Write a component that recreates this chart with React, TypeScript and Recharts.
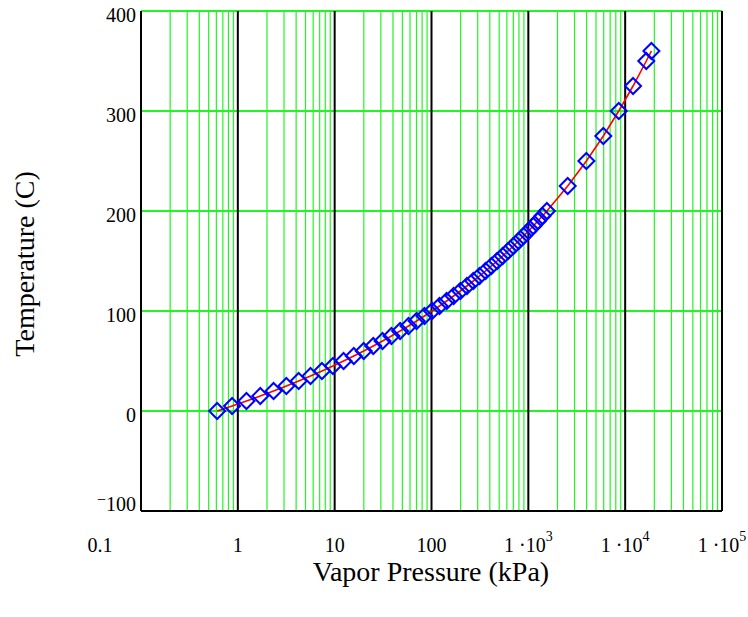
import React from "react";
import {
  ComposedChart,
  Line,
  XAxis,
  YAxis,
  ReferenceLine
} from "recharts";

// saturated water: temperature (C) vs vapor pressure (kPa)
const temperatureC = [
  0, 5, 10, 15, 20, 25, 30, 35, 40, 45, 50, 55, 60, 65, 70, 75, 80, 85, 90, 95,
  100, 105, 110, 115, 120, 125, 130, 135, 140, 145, 150, 155, 160, 165, 170, 175,
  180, 185, 190, 195, 200, 225, 250, 275, 300, 325, 350, 360
];
const pressureKPa = [
  0.6117, 0.8725, 1.2281, 1.7057, 2.3392, 3.1698, 4.2469, 5.6291, 7.3851, 9.5953,
  12.352, 15.763, 19.947, 25.043, 31.202, 38.597, 47.416, 57.868, 70.183, 84.609,
  101.42, 120.9, 143.38, 169.18, 198.67, 232.23, 270.28, 313.22, 361.53, 415.68,
  476.16, 543.49, 618.23, 700.93, 792.18, 892.6, 1002.8, 1123.5, 1255.2, 1398.8,
  1554.9, 2549.7, 3976.2, 5946.4, 8587.9, 12060, 16529, 18666
];

const xTicks = [0.1, 1, 10, 100, 1000, 10000, 100000];
const xTickExponents = [null, null, null, null, 3, 4, 5];
const xTickPlain = ["0.1", "1", "10", "100"];
const yTicks = [-100, 0, 100, 200, 300, 400];
const yGridValues = [0, 100, 200, 300, 400];
const decadeLines = [1, 10, 100, 1000, 10000];

const GREEN = "#22f522";
const FONT = "'Liberation Serif', 'Times New Roman', serif";
const textStyle = { fontFamily: FONT, fill: "#000" };

const data = pressureKPa.map((p, i) => ({ p, t: temperatureC[i] }));

// 2..9 within each decade from 0.1 up to 1e5
const minorLines: number[] = [];
for (let d = 0.1; d < 100000; d *= 10) {
  for (let k = 2; k <= 9; k++) minorLines.push(Math.round(d * k * 1000) / 1000);
}

function XTick(props: any) {
  const { x, y, payload, index } = props;
  const exp = xTickExponents[index];
  const cx = index === 0 ? x - 41 : x;
  if (exp == null) {
    return (
      <text x={cx} y={y} dy={33} textAnchor="middle" fontSize={20} style={textStyle}>
        {xTickPlain[index] ?? String(payload.value)}
      </text>
    );
  }
  return (
    <text x={cx} y={y} dy={33} textAnchor="middle" fontSize={20} style={textStyle}>
      <tspan>1 ·10</tspan>
      <tspan dy={-11} fontSize={14}>{exp}</tspan>
    </text>
  );
}

function YTick(props: any) {
  const { x, y, payload } = props;
  const v = payload.value;
  if (v < 0) {
    return (
      <text x={x + 3} y={y} dy={10.5} textAnchor="end" fontSize={20} style={textStyle}>
        <tspan dy={-6} fontSize={16}>−</tspan>
        <tspan dy={6}>{Math.abs(v)}</tspan>
      </text>
    );
  }
  return (
    <text x={x + 3} y={y} dy={10.5} textAnchor="end" fontSize={20} style={textStyle}>
      {v}
    </text>
  );
}

function Diamond(props: any) {
  const { cx, cy, index } = props;
  if (cx == null || cy == null) return <g key={index} />;
  const r = 8;
  return (
    <path
      key={index}
      d={`M${cx},${cy - r}L${cx + r},${cy}L${cx},${cy + r}L${cx - r},${cy}Z`}
      fill="none"
      stroke="#0000ff"
      strokeWidth={2}
    />
  );
}

export default function App() {
  return (
    <div style={{ position: "absolute", left: 0, top: 0, background: "#fff" }}>
      <ComposedChart
        width={748}
        height={617}
        data={data}
        margin={{ top: 11, right: 26, bottom: 46, left: 0 }}
      >
        {yGridValues.map((v) => (
          <ReferenceLine key={"h" + v} y={v} stroke={GREEN} strokeWidth={2} />
        ))}
        {minorLines.map((v) => (
          <ReferenceLine key={"m" + v} x={v} stroke={GREEN} strokeWidth={1.2} />
        ))}
        {decadeLines.map((v) => (
          <ReferenceLine key={"d" + v} x={v} stroke="#000" strokeWidth={2} />
        ))}
        <ReferenceLine x={100000} stroke="#000" strokeWidth={2} />
        <XAxis
          dataKey="p"
          type="number"
          scale="log"
          domain={[0.1, 100000]}
          ticks={xTicks}
          allowDataOverflow
          height={60}
          axisLine={{ stroke: "#000", strokeWidth: 2 }}
          tickLine={false}
          tick={<XTick />}
          interval={0}
          label={{
            content: () => (
              <text x={431} y={581} textAnchor="middle" fontSize={28} style={textStyle}>
                Vapor Pressure (kPa)
              </text>
            )
          }}
        />
        <YAxis
          dataKey="t"
          type="number"
          domain={[-100, 400]}
          ticks={yTicks}
          allowDataOverflow
          width={141}
          axisLine={{ stroke: "#000", strokeWidth: 2 }}
          tickLine={false}
          tick={<YTick />}
          interval={0}
          label={{
            content: () => (
              <text
                x={24}
                y={264}
                transform="rotate(-90, 24, 264)"
                textAnchor="middle"
                dominantBaseline="central"
                fontSize={28}
                style={textStyle}
              >
                Temperature (C)
              </text>
            )
          }}
        />
        <Line
          dataKey="t"
          type="linear"
          stroke="#ff0000"
          strokeWidth={1.6}
          dot={(p: any) => <Diamond {...p} key={p.index} />}
          activeDot={false}
          isAnimationActive={false}
        />
      </ComposedChart>
    </div>
  );
}
